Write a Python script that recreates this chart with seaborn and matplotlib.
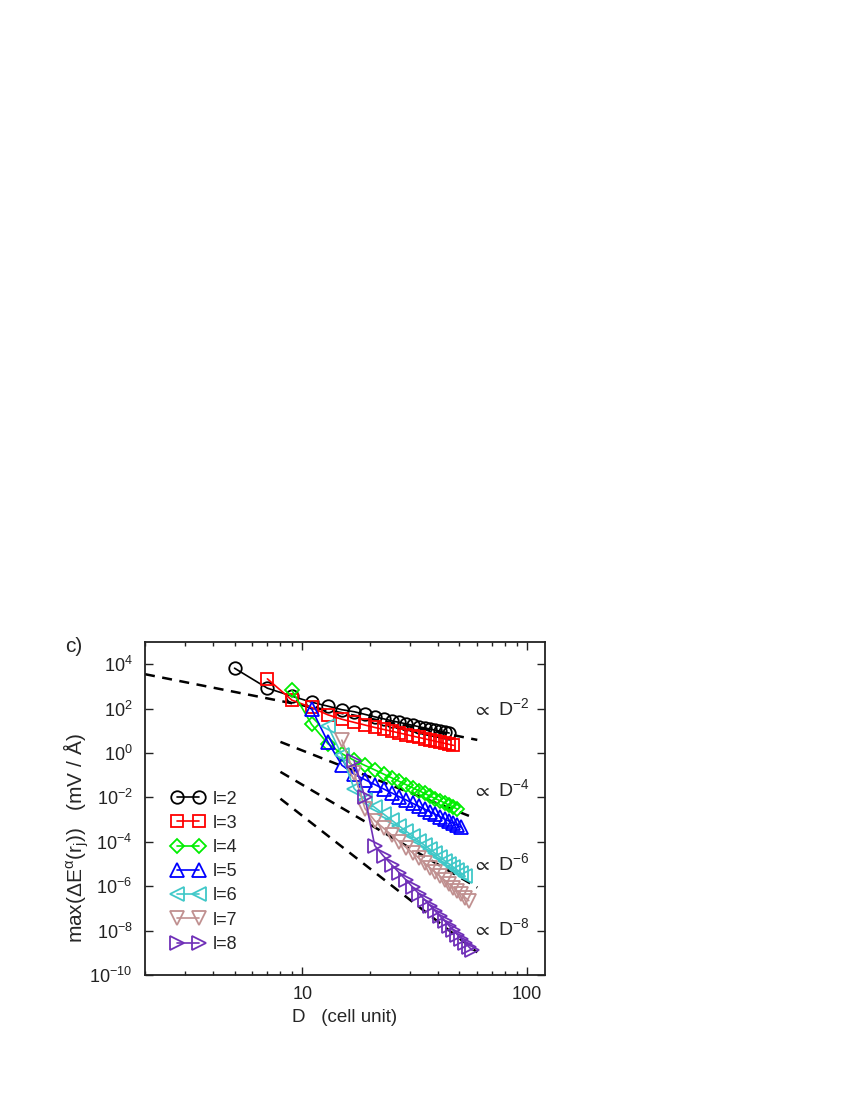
import numpy as np
import pandas as pd
import matplotlib
matplotlib.use('Agg')
import matplotlib.pyplot as plt
import seaborn as sns
from matplotlib.ticker import NullLocator, LogLocator, NullFormatter

# D values (cell unit) for each multipole order l
d_l2 = np.arange(5, 46, 2)
d_l3 = np.arange(7, 48, 2)
d_l4 = np.arange(9, 50, 2)
d_l5 = np.arange(11, 52, 2)
d_l6 = np.arange(13, 54, 2)
d_l7 = np.arange(15, 56, 2)
d_l8 = np.arange(17, 58, 2)

# log10 of max(dE)
log_l2 = [3.82, 2.92, 2.56, 2.29, 2.11, 1.95, 1.86, 1.74, 1.63, 1.54, 1.45, 1.38, 1.31,
          1.245, 1.185, 1.13, 1.08, 1.03, 0.985, 0.94, 0.90]
log_l3 = [3.34, 2.38, 2.05, 1.72, 1.52, 1.38, 1.26, 1.15, 1.06, 0.98, 0.90, 0.83, 0.76,
          0.70, 0.64, 0.585, 0.53, 0.48, 0.435, 0.39, 0.345]
log_l4 = [2.82, 1.29, 0.42, -0.03, -0.33, -0.56, -0.76, -0.95, -1.12, -1.28, -1.43, -1.57,
          -1.70, -1.82, -1.94, -2.05, -2.15, -2.25, -2.35, -2.44, -2.53]
log_l5 = [1.99, 0.50, -0.55, -0.95, -1.20, -1.42, -1.62, -1.80, -1.97, -2.12, -2.27, -2.40,
          -2.53, -2.65, -2.76, -2.87, -2.98, -3.07, -3.17, -3.26, -3.35]
log_l6 = [1.22, -0.10, -1.60, -2.10, -2.45, -2.75, -3.03, -3.29, -3.53, -3.75, -3.96, -4.16,
          -4.34, -4.52, -4.69, -4.85, -5.00, -5.14, -5.28, -5.42, -5.55]
log_l7 = [0.58, -0.90, -2.50, -3.05, -3.39, -3.70, -3.99, -4.26, -4.50, -4.74, -4.96, -5.17,
          -5.36, -5.55, -5.73, -5.90, -6.06, -6.22, -6.36, -6.51, -6.65]
log_l8 = [-0.34, -2.00, -4.17, -4.65, -5.04, -5.40, -5.73, -6.05, -6.34, -6.61, -6.87, -7.12,
          -7.35, -7.57, -7.79, -7.99, -8.19, -8.37, -8.55, -8.73, -8.89]

# dashed guide lines (end points), D^-2, D^-4, D^-6, D^-8
guide_x = [[2, 60], [8, 58], [8, 60], [8, 60]]
guide_logy = [[3.55, 0.59], [0.50, -2.92], [-0.85, -6.06], [-2.06, -8.98]]
guide_labels = [r'$\propto$ D$^{-2}$', r'$\propto$ D$^{-4}$', r'$\propto$ D$^{-6}$', r'$\propto$ D$^{-8}$']

labels = ['l=2', 'l=3', 'l=4', 'l=5', 'l=6', 'l=7', 'l=8']
colors = ['black', '#ff0000', '#00ee00', '#0000ff', '#40c8c8', '#c09090', '#7030b8']
markers = ['o', 's', 'D', '^', '<', 'v', '>']
msizes = [9, 8, 7.5, 9.5, 9.5, 9.5, 9.5]

series = [(d_l2, log_l2), (d_l3, log_l3), (d_l4, log_l4), (d_l5, log_l5),
          (d_l6, log_l6), (d_l7, log_l7), (d_l8, log_l8)]

sns.set_style('ticks')
plt.rcParams['font.family'] = ['Liberation Sans', 'DejaVu Sans']
plt.rcParams['mathtext.default'] = 'regular'

fig = plt.figure(figsize=(8.5, 11), dpi=100)
ax = fig.add_axes([145 / 850, 1 - 975 / 1100, 400 / 850, 333 / 1100])

for (d, lv), lab, c, m, ms in zip(series, labels, colors, markers, msizes):
    df = pd.DataFrame({'D': d, 'E': 10 ** np.array(lv)})
    sns.lineplot(data=df, x='D', y='E', ax=ax, color=c, marker=m, markersize=ms,
                 markerfacecolor='none', markeredgecolor=c, markeredgewidth=1.3,
                 linewidth=1.2, label=lab)

for gx, gy in zip(guide_x, guide_logy):
    ax.plot(gx, 10 ** np.array(gy), color='black', linestyle=(0, (4, 3)), linewidth=1.8, zorder=1)

ax.set_xscale('log')
ax.set_yscale('log')
ax.set_xlim(2, 120)
ax.set_ylim(1e-10, 1e5)
ax.set_xticks([10, 100])
ax.set_xticklabels(['10', '100'])
ax.xaxis.set_minor_locator(LogLocator(base=10, subs=np.arange(2, 10), numticks=20))
ax.xaxis.set_minor_formatter(NullFormatter())
ax.set_yticks([1e-10, 1e-8, 1e-6, 1e-4, 1e-2, 1e0, 1e2, 1e4])
ax.yaxis.set_minor_locator(NullLocator())
ax.tick_params(which='both', direction='in', top=True, right=True, labelsize=13, colors='#222222')
ax.tick_params(which='major', length=5.5, width=1)
ax.tick_params(which='minor', length=3, width=1)
ax.tick_params(axis='x', pad=8)
ax.tick_params(axis='y', pad=9)
for sp in ax.spines.values():
    sp.set_linewidth(1.3)
    sp.set_color('#222222')

# annotations for guide lines
ann_y = [1e2, 10 ** -1.61, 10 ** -4.94, 10 ** -7.9]
for yy, gl in zip(ann_y, guide_labels):
    ax.text(57, yy, gl, fontsize=14, va='center', ha='left')

ax.set_xlabel('D   (cell unit)', fontsize=13.5, labelpad=4)
ax.set_ylabel(r'max($\Delta$E$^{\alpha}$(r$_j$))   (mV / Å)', fontsize=15)
ax.yaxis.set_label_coords(-0.135, 0.41)

ax.legend(loc='upper left', bbox_to_anchor=(0.066, 0.554), frameon=False, numpoints=2,
          fontsize=13, handlelength=1.82, handletextpad=0.48, labelspacing=0.4,
          borderaxespad=0, borderpad=0)

fig.text(65 / 850, 1 - 646 / 1100, 'c)', fontsize=15, va='center', ha='left')

fig.savefig('out.png', dpi=100)
